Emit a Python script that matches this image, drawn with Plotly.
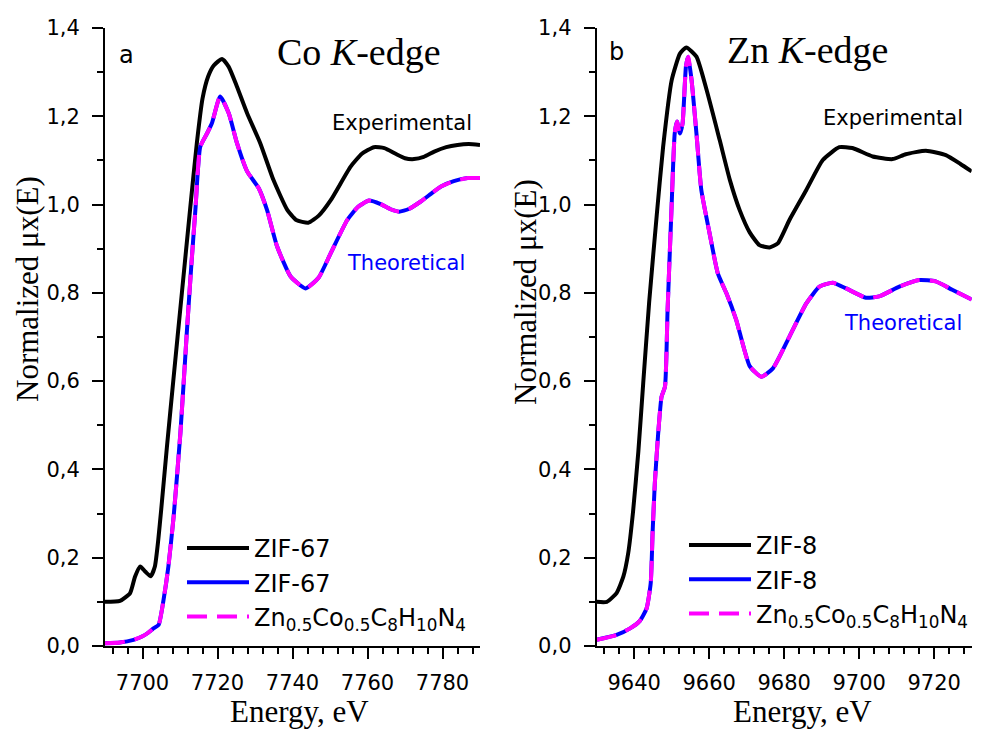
import plotly.graph_objects as go

# ---------------- data ----------------
co_e_exp = [7690, 7694, 7696.7, 7698, 7699.4, 7700.8, 7702.2, 7703.3, 7704.2, 7705, 7706.5, 7708.2,
            7710.5, 7712.7, 7714.5, 7716, 7717.5, 7719, 7721.2, 7723, 7725.2, 7727.9, 7731.4, 7734.9,
            7738.6, 7741, 7744.2, 7747, 7750.2, 7755.5, 7758.5, 7761.7, 7764.5, 7767.5, 7770, 7772.4,
            7775, 7777.8, 7781, 7784, 7787, 7790]
co_mu_exp = [0.100, 0.102, 0.120, 0.157, 0.180, 0.168, 0.158, 0.180, 0.240, 0.310, 0.450, 0.600,
             0.800, 0.990, 1.140, 1.240, 1.290, 1.315, 1.330, 1.312, 1.267, 1.207, 1.139, 1.056,
             0.988, 0.965, 0.959, 0.975, 1.010, 1.086, 1.115, 1.130, 1.128, 1.115, 1.105, 1.103,
             1.108, 1.120, 1.130, 1.135, 1.137, 1.135]

co_e_theo = [7690, 7694, 7697.6, 7700, 7701.5, 7702.9, 7704.3, 7705.6, 7706.9, 7708.3, 7710.1, 7711.8,
             7713, 7714.1, 7715.4, 7717.2, 7718.5, 7720.7, 7723, 7725.2, 7727.9, 7731, 7733.2, 7735.9,
             7739.5, 7743.5, 7747, 7750.2, 7754.6, 7757.5, 7760.4, 7763.5, 7766, 7768.4, 7771, 7774.2,
             7777, 7779.6, 7783, 7786.7, 7790]
co_mu_theo = [0.006, 0.008, 0.014, 0.022, 0.030, 0.040, 0.048, 0.104, 0.180, 0.293, 0.482, 0.708,
              0.860, 0.988, 1.131, 1.161, 1.184, 1.245, 1.207, 1.139, 1.075, 1.037, 0.988, 0.905,
              0.837, 0.810, 0.835, 0.890, 0.965, 0.995, 1.009, 1.001, 0.990, 0.984, 0.990, 1.007,
              1.025, 1.041, 1.053, 1.060, 1.060]

zn_e_exp = [9630, 9632.7, 9635.3, 9637.1, 9638.4, 9639.7, 9641.1, 9642.4, 9644, 9646, 9647.7, 9650,
            9652.2, 9653.9, 9656.6, 9659.3, 9662.8, 9665.5, 9668.1, 9670.8, 9673.4, 9676.1, 9678.3,
            9681.4, 9685.9, 9690.3, 9694.7, 9698.2, 9703.6, 9708.9, 9712.4, 9717.8, 9723.1, 9727, 9730]
zn_mu_exp = [0.100, 0.100, 0.120, 0.157, 0.210, 0.305, 0.440, 0.595, 0.780, 0.975, 1.130, 1.282,
             1.342, 1.356, 1.335, 1.260, 1.146, 1.056, 0.988, 0.937, 0.908, 0.903, 0.912,
             0.965, 1.033, 1.101, 1.130, 1.128, 1.109, 1.103, 1.114, 1.122, 1.112, 1.092, 1.075]

zn_e_theo = [9630, 9635.3, 9638.9, 9641.5, 9643.3, 9644.4, 9644.9, 9645.5, 9646.4, 9647.3, 9648.2,
             9648.9, 9649.9, 9650.8, 9651.4, 9652.2, 9652.9, 9653.8, 9654.4, 9655.3, 9656.6, 9657.9,
             9660.1, 9662.3, 9664.6, 9667.2, 9670.8, 9673.9, 9677, 9681.4, 9685.9, 9689.4, 9692.9,
             9696.5, 9701.8, 9705.3, 9710.7, 9716, 9720.4, 9724.8, 9730]
zn_mu_theo = [0.014, 0.025, 0.040, 0.057, 0.085, 0.142, 0.255, 0.369, 0.482, 0.565, 0.587,
              0.760, 0.980, 1.161, 1.188, 1.161, 1.184, 1.313, 1.335, 1.282, 1.161, 1.033,
              0.935, 0.844, 0.799, 0.739, 0.634, 0.610, 0.629, 0.701, 0.776, 0.814, 0.823,
              0.810, 0.789, 0.792, 0.814, 0.829, 0.826, 0.807, 0.785]

co_x_ticks = [7700, 7720, 7740, 7760, 7780]
zn_x_ticks = [9640, 9660, 9680, 9700, 9720]
y_ticks = [0.0, 0.2, 0.4, 0.6, 0.8, 1.0, 1.2, 1.4]

name_co = "ZIF-67"
name_zn = "ZIF-8"
name_mix = "Zn<sub>0.5</sub>Co<sub>0.5</sub>C<sub>8</sub>H<sub>10</sub>N<sub>4</sub>"

# ---------------- figure ----------------
W, H = 983, 729
OFF = 8  # page body margin of the exported html


def px(x):
    return (x - OFF) / W


def py(y):
    return 1 - (y - OFF) / H


SANS = "DejaVu Sans"
SERIF = "Liberation Serif"
BLUE = "#0000ff"
MAG = "#ff00ff"
LW = 4
DASH = "20px,10px"
SMOOTH = 0.5

fig = go.Figure()


def add_panel(xs_e, ys_e, xs_t, ys_t, name_exp, xa, ya, leg):
    fig.add_trace(go.Scatter(x=xs_e, y=ys_e, mode="lines", name=name_exp, xaxis=xa, yaxis=ya,
                             line=dict(color="black", width=LW, shape="spline", smoothing=SMOOTH),
                             legend=leg))
    fig.add_trace(go.Scatter(x=xs_t, y=ys_t, mode="lines", name=name_exp, xaxis=xa, yaxis=ya,
                             line=dict(color=BLUE, width=LW, shape="spline", smoothing=SMOOTH),
                             legend=leg))
    fig.add_trace(go.Scatter(x=xs_t, y=ys_t, mode="lines", name=name_mix, xaxis=xa, yaxis=ya,
                             line=dict(color=MAG, width=LW, dash=DASH, shape="spline", smoothing=SMOOTH),
                             legend=leg))


add_panel(co_e_exp, co_mu_exp, co_e_theo, co_mu_theo, name_co, "x", "y", "legend")
add_panel(zn_e_exp, zn_mu_exp, zn_e_theo, zn_mu_theo, name_zn, "x2", "y2", "legend2")

tickfont = dict(family=SANS, size=21, color="black")


def xaxis_cfg(rng, ticks, dom, anchor):
    return dict(domain=dom, range=rng, anchor=anchor, tickvals=ticks, ticks="outside",
                ticklen=11, tickwidth=2, tickcolor="black", showline=True, linewidth=2,
                linecolor="black", showgrid=False, zeroline=False, tickfont=tickfont,
                ticklabelstandoff=6, automargin=False,
                minor=dict(dtick=4, tick0=ticks[0], ticks="outside", ticklen=6, tickwidth=2,
                           tickcolor="black", showgrid=False))


def yaxis_cfg(dom, anchor):
    return dict(domain=dom, range=[0, 1.4], anchor=anchor, tickvals=y_ticks, tickformat=".1f",
                ticks="outside", ticklen=11, tickwidth=2, tickcolor="black", showline=True,
                linewidth=2, linecolor="black", showgrid=False, zeroline=False, tickfont=tickfont,
                ticklabelstandoff=8, automargin=False,
                minor=dict(dtick=0.1, tick0=0, ticks="outside", ticklen=6, tickwidth=2,
                           tickcolor="black", showgrid=False))


ydom = [py(646), py(28)]
legfont = dict(family=SANS, size=24, color="black")
fig.update_layout(
    width=W, height=H,
    margin=dict(l=0, r=0, t=0, b=0, pad=0, autoexpand=False),
    paper_bgcolor="white", plot_bgcolor="white",
    separators=",.",
    xaxis=xaxis_cfg([7690, 7790], co_x_ticks, [px(105), px(480)], "y"),
    yaxis=yaxis_cfg(ydom, "x"),
    xaxis2=xaxis_cfg([9630, 9730], zn_x_ticks, [px(596.7), px(971.7)], "y2"),
    yaxis2=yaxis_cfg(ydom, "x2"),
    legend=dict(x=px(182), y=py(526), xanchor="left", yanchor="top", bgcolor="rgba(0,0,0,0)",
                font=legfont, itemwidth=62, tracegroupgap=0),
    legend2=dict(x=px(684), y=py(523), xanchor="left", yanchor="top", bgcolor="rgba(0,0,0,0)",
                 font=legfont, itemwidth=62, tracegroupgap=0),
    showlegend=True,
)

serif_title = dict(family=SERIF, size=31, color="black")
annots = [
    dict(text="Normalized μx(E)", x=px(27), y=py(289), textangle=-90, font=serif_title),
    dict(text="Normalized μx(E)", x=px(526), y=py(292), textangle=-90, font=serif_title),
    dict(text="Energy, eV", x=px(299), y=py(711), font=serif_title),
    dict(text="Energy, eV", x=px(802), y=py(711), font=serif_title),
    dict(text="a", x=px(126), y=py(55), font=dict(family=SANS, size=24, color="black")),
    dict(text="b", x=px(616), y=py(52), font=dict(family=SANS, size=24, color="black")),
    dict(text="Co <i>K</i>-edge", x=px(359), y=py(52), font=dict(family=SERIF, size=38, color="black")),
    dict(text="Zn <i>K</i>-edge", x=px(807), y=py(50), font=dict(family=SERIF, size=38, color="black")),
    dict(text="Experimental", x=px(401.5), y=py(123), font=dict(family=SANS, size=21, color="black")),
    dict(text="Theoretical", x=px(405.5), y=py(263), font=dict(family=SANS, size=21, color=BLUE)),
    dict(text="Experimental", x=px(892.5), y=py(118), font=dict(family=SANS, size=21, color="black")),
    dict(text="Theoretical", x=px(902.5), y=py(323), font=dict(family=SANS, size=21, color=BLUE)),
]
for a in annots:
    a.update(xref="paper", yref="paper", showarrow=False, xanchor="center", yanchor="middle")
fig.update_layout(annotations=annots)

fig.write_html("out.html")
